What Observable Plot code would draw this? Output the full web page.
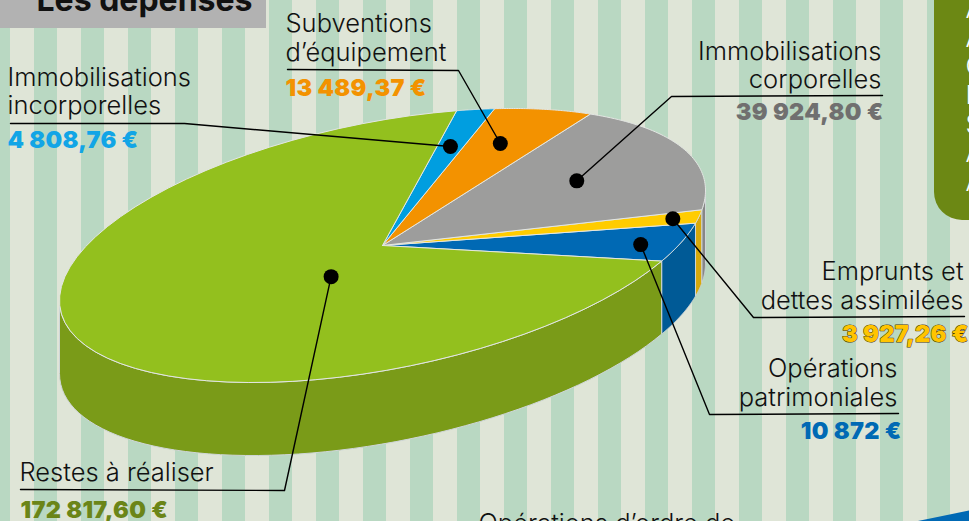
<!DOCTYPE html>
<html lang="fr">
<head>
<meta charset="utf-8">
<title>Les dépenses</title>
<script src="https://cdn.jsdelivr.net/npm/d3@7"></script>
<script src="https://cdn.jsdelivr.net/npm/@observablehq/plot@0.6"></script>
<style>
  html, body { margin: 0; padding: 0; width: 969px; height: 521px; overflow: hidden; }
  body {
    background-image: linear-gradient(90deg, #dfe5d7 50%, #b9d8c2 50%);
    background-size: 47px 100%;
    background-position: 10px 0;
  }
  svg { display: block; }
  .amt { letter-spacing: .3px; }
</style>
</head>
<body>
<div id="chart"></div>
<script>
// ---- Data ----
const categories = [
  ["Opérations", "patrimoniales"],
  ["Emprunts et", "dettes assimilées"],
  ["Immobilisations", "corporelles"],
  ["Subventions", "d’équipement"],
  ["Immobilisations", "incorporelles"],
  ["Restes à réaliser"]
];
const amounts = [10872, 3927.26, 39924.80, 13489.37, 4808.76, 172817.60];
const amountLabels = ["10 872 €", "3 927,26 €", "39 924,80 €", "13 489,37 €", "4 808,76 €", "172 817,60 €"];

// ---- Styling ----
const topColors  = ["#0069b4", "#ffcc00", "#9d9d9c", "#f39200", "#009ee0", "#93c01e"];
const sideColors = ["#005a96", "#d6a90c", "#878787", "#c77700", "#0080b5", "#7a9b18"];
const amountColors = ["#0069b4", "#ffc400", "#706f6f", "#f39200", "#12a5e6", "#6b8518"];
const LIGHT = "'Inter', sans-serif";
const HEAVY = "'Inter', sans-serif";

// ---- Pie geometry: an oblique view of a disc ----
const cx = 382, cy = 245, ax = 323, shear = -55, ay = 125.5, depth = 73;
const startAngle = 30.2; // degrees, slices run towards decreasing angle
const total = d3.sum(amounts);
const project = (deg, r = 1, drop = 0) => {
  const t = deg * Math.PI / 180;
  const u = r * Math.cos(t), v = r * Math.sin(t);
  return [cx + ax * u, cy + shear * u + ay * v + drop];
};
let run = startAngle;
const slices = amounts.map((value, i) => {
  const a0 = run, a1 = run - value / total * 360;
  run = a1;
  return {i, a0, a1, mid: (a0 + a1) / 2};
});
const arc = (a0, a1, drop = 0) =>
  d3.range(0, 61).map(k => project(a0 + (a1 - a0) * k / 60, 1, drop));
const topPoly = s => [[cx, cy], ...arc(s.a0, s.a1), [cx, cy]];

// Rim faces: only the near half of the rim (angle 0 to 180) is seen.
const rimRange = s => {
  if (s.a1 < -180) return [startAngle, 180];  // the large slice wraps round the near side
  return s.a0 > 0 ? [Math.max(s.a1, 0), s.a0] : null;
};
const sides = slices.map(s => {
  const r = rimRange(s);
  return r && {i: s.i, pts: [...arc(r[0], r[1]), ...arc(r[1], r[0], depth), project(r[0])]};
}).filter(Boolean);

// Leader dots sit on each slice; the big slice's dot is pulled off its middle.
const dotRadius = [0.87, 0.917, 0.652, 0.748, 0.728, 0.239];
const dotAngleShift = [1, 0, -2, -1, 0, -25];
const dots = slices.map(s => project(s.mid + dotAngleShift[s.i], dotRadius[s.i]));

// ---- Layout of the callouts ----
const leaderRules = [
  {far: [898, 413], elbow: [709, 414]},
  {far: [964, 316], elbow: [753, 317]},
  {far: [882, 95],  elbow: [671, 96]},
  {far: [287, 69],  elbow: [458, 70]},
  {far: [10, 123],  elbow: [184, 123]},
  {far: [20, 489],  elbow: [284, 490]}
];
const labelSpots = [
  {x: 897, y: [376, 405], vx: 901, vy: 438, anchor: "end"},
  {x: 963, y: [279, 308], vx: 968, vy: 341, anchor: "end"},
  {x: 881, y: [59, 87],   vx: 883, vy: 119, anchor: "end"},
  {x: 285, y: [31, 60],   vx: 285, vy: 95,  anchor: "start"},
  {x: 7,   y: [85, 113],  vx: 7,   vy: 147, anchor: "start"},
  {x: 19,  y: [480],      vx: 20,  vy: 517, anchor: "start"}
];
const labelLines = categories.flatMap((lines, i) =>
  lines.map((text, k) => ({text, x: labelSpots[i].x, y: labelSpots[i].y[k], anchor: labelSpots[i].anchor})));
const amountRows = amountLabels.map((text, i) => ({text, i, x: labelSpots[i].vx, y: labelSpots[i].vy, anchor: labelSpots[i].anchor}));

const panelLetters = ["A", "A", "C", "D", "S", "A", "A"];
const panelY = [17, 46, 74, 103, 132, 161, 190];

const identity = {x: {type: "linear", domain: [0, 969], range: [0, 969]},
                  y: {type: "linear", domain: [0, 521], range: [0, 521]}};
const poly = (pts, fill, stroke) => Plot.line(pts, {
  x: d => d[0], y: d => d[1], fill, stroke: stroke || "none", strokeWidth: 1, curve: "linear"
});
const textOpts = {fontFamily: LIGHT, fontWeight: 300, fontSize: 25.5, lineAnchor: "bottom"};
const amountOpts = {fontFamily: HEAVY, fontWeight: 900, fontSize: 23.5, lineAnchor: "bottom", className: "amt"};
const byAnchor = (rows, anchor) => rows.filter(d => d.anchor === anchor);

const chart = Plot.plot({
  width: 969, height: 521, margin: 0,
  ...identity,
  axis: null,
  style: {background: "transparent"},
  marks: [
    // title block and surrounding page furniture
    Plot.rect([0], {x1: 0, x2: 266, y1: 0, y2: 28, fill: "#b2b2b2"}),
    Plot.text(["Les dépenses"], {x: 36, y: 10, textAnchor: "start", lineAnchor: "bottom",
      fontFamily: HEAVY, fontWeight: 700, fontSize: 32, fill: "#111"}),
    Plot.rect([0], {x1: 934, x2: 1030, y1: -40, y2: 220, fill: "#6c8814", rx: 28}),
    Plot.text(panelLetters, {x: 965, y: (d, i) => panelY[i], textAnchor: "start", lineAnchor: "bottom",
      fontFamily: LIGHT, fontWeight: 300, fontSize: 25.5, fill: "#fff"}),
    poly([[915, 521], [969, 510], [969, 521]], "#0069b4"),
    Plot.text(["Opérations d’ordre de"], {x: 478, y: 531, textAnchor: "start", ...textOpts, fill: "#111"}),

    // pie: rim first, then the top face
    ...sides.map(s => poly(s.pts, sideColors[s.i], "#cfd6d8")),
    ...slices.map(s => poly(topPoly(s), topColors[s.i], "#e3e6e3")),

    // leaders
    ...leaderRules.map((l, i) => Plot.line([l.far, l.elbow, dots[i]], {
      x: d => d[0], y: d => d[1], stroke: "#000", strokeWidth: 1.4
    })),
    Plot.dot(dots, {x: d => d[0], y: d => d[1], r: 7.5, fill: "#000"}),

    // labels
    ...["start", "end"].flatMap(anchor => [
      Plot.text(byAnchor(labelLines, anchor), {x: "x", y: "y", text: "text", textAnchor: anchor, ...textOpts, fill: "#111"}),
      Plot.text(byAnchor(amountRows, anchor), {x: "x", y: "y", text: "text", textAnchor: anchor, ...amountOpts,
        fill: d => amountColors[d.i],
        stroke: d => d.i === 1 ? "#4a3a00" : "none", strokeWidth: 1})
    ]),
  ]
});
document.getElementById("chart").appendChild(chart);
</script>
</body>
</html>
